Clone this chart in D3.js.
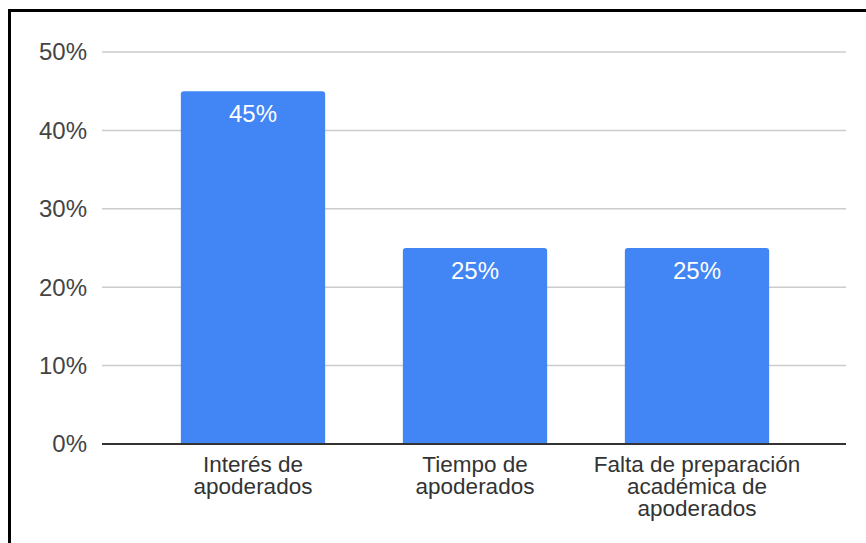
<!DOCTYPE html>
<html>
<head>
  <meta charset="utf-8">
  <script src="https://d3js.org/d3.v7.min.js"></script>
  <style>
    body { margin: 0; background: #fff; }
    text { font-family: 'Liberation Sans', Arial, sans-serif; }
    .tick-label { font-size: 24px; fill: #444; }
    .cat-label { font-size: 22.5px; fill: #333; }
    .bar-label { font-size: 24px; fill: #fff; }
  </style>
</head>
<body>
<div id="chart"></div>
<script>
  // chart data
  var categories = [
    ["Interés de", "apoderados"],
    ["Tiempo de", "apoderados"],
    ["Falta de preparación", "académica de", "apoderados"]
  ];
  var values = [0.45, 0.25, 0.25];
  var yTicks = [0, 0.1, 0.2, 0.3, 0.4, 0.5];

  var width = 866, height = 543;

  var svg = d3.select("#chart").append("svg")
      .attr("width", width)
      .attr("height", height);

  svg.append("rect")
      .attr("width", width).attr("height", height)
      .attr("fill", "#fff");

  // frame round the picture (cut off on the right and bottom)
  svg.append("rect")
      .attr("x", 9.5).attr("y", 10.5)
      .attr("width", 1000).attr("height", 1000)
      .attr("fill", "none")
      .attr("stroke", "#000")
      .attr("stroke-width", 3);

  var y = d3.scaleLinear().domain([0, 0.5]).range([444, 52]);
  var x = d3.scaleBand()
      .domain(d3.range(categories.length))
      .range([142, 808])
      .paddingInner(0.35)
      .paddingOuter(0.175);

  var gridLeft = 102, gridRight = 846;

  // gridlines
  svg.selectAll(".grid")
      .data(yTicks.filter(function(d) { return d > 0; }))
      .enter().append("line")
      .attr("x1", gridLeft).attr("x2", gridRight)
      .attr("y1", function(d) { return y(d); })
      .attr("y2", function(d) { return y(d); })
      .attr("stroke", "#ccc")
      .attr("stroke-width", 1.5);

  // y tick labels
  svg.selectAll(".tick-label")
      .data(yTicks)
      .enter().append("text")
      .attr("class", "tick-label")
      .attr("x", 87)
      .attr("y", function(d) { return y(d); })
      .attr("dy", "0.35em")
      .attr("text-anchor", "end")
      .text(d3.format(".0%"));

  // rounded-top bars
  function barPath(x0, w, top, bottom, r) {
    return "M" + x0 + "," + bottom +
      "V" + (top + r) +
      "Q" + x0 + "," + top + " " + (x0 + r) + "," + top +
      "H" + (x0 + w - r) +
      "Q" + (x0 + w) + "," + top + " " + (x0 + w) + "," + (top + r) +
      "V" + bottom + "Z";
  }

  svg.selectAll(".bar")
      .data(values)
      .enter().append("path")
      .attr("class", "bar")
      .attr("fill", "#4285f4")
      .attr("d", function(d, i) {
        return barPath(x(i), x.bandwidth(), y(d), y(0), 3);
      });

  svg.selectAll(".bar-label")
      .data(values)
      .enter().append("text")
      .attr("class", "bar-label")
      .attr("x", function(d, i) { return x(i) + x.bandwidth() / 2; })
      .attr("y", function(d) { return y(d) + 31; })
      .attr("text-anchor", "middle")
      .text(d3.format(".0%"));

  // baseline
  svg.append("line")
      .attr("x1", gridLeft).attr("x2", gridRight)
      .attr("y1", y(0)).attr("y2", y(0))
      .attr("stroke", "#333")
      .attr("stroke-width", 2);

  // category labels
  var cat = svg.selectAll(".cat-label")
      .data(categories)
      .enter().append("text")
      .attr("class", "cat-label")
      .attr("text-anchor", "middle")
      .attr("x", function(d, i) { return x(i) + x.bandwidth() / 2; })
      .attr("y", 472);

  cat.selectAll("tspan")
      .data(function(d) { return d; })
      .enter().append("tspan")
      .attr("x", function() { return d3.select(this.parentNode).attr("x"); })
      .attr("dy", function(d, i) { return i === 0 ? 0 : 22; })
      .text(function(d) { return d; });
</script>
</body>
</html>
